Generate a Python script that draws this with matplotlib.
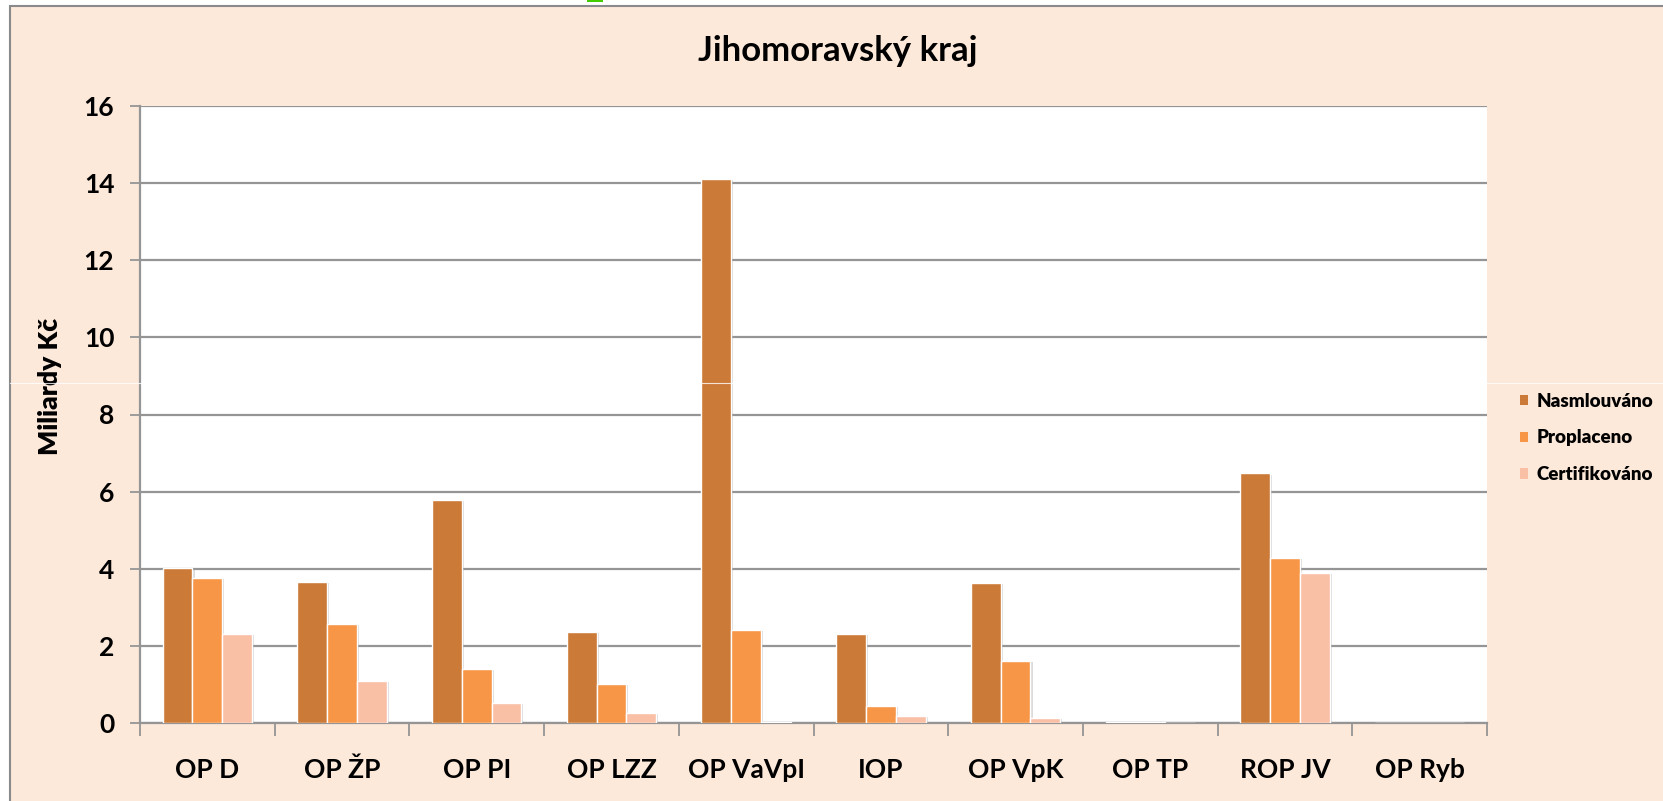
#!/usr/bin/env python3
"""
Jihomoravsky kraj - grouped bars of OP funds (contracted / paid / certified)
"""
import numpy as np
import matplotlib
matplotlib.use('Agg')
import matplotlib.pyplot as plt
from matplotlib.patches import Patch, Rectangle
from matplotlib.lines import Line2D
import matplotlib.patheffects as pe

plt.rcParams['font.family'] = ['Lato', 'DejaVu Sans']

categories = ['OP D', 'OP ŽP', 'OP PI', 'OP LZZ', 'OP VaVpI', 'IOP',
              'OP VpK', 'OP TP', 'ROP JV', 'OP Ryb']
series_names = ['Nasmlouváno', 'Proplaceno', 'Certifikováno']
nasmlouvano = [4.01, 3.66, 5.78, 2.36, 14.11, 2.31, 3.63, 0.02, 6.48, 0.01]
proplaceno = [3.76, 2.57, 1.40, 1.01, 2.41, 0.45, 1.62, 0.02, 4.28, 0.01]
certifikovano = [2.31, 1.09, 0.53, 0.27, 0.02, 0.19, 0.14, 0.01, 3.89, 0.0]
yticks = [0, 2, 4, 6, 8, 10, 12, 14, 16]

colors = ['#CC7A38', '#F79646', '#FAC0A6']
bg = '#FDE9DA'
grid_c = '#959595'

W, H = 1663, 801
fig = plt.figure(figsize=(W / 100, H / 100), dpi=100, facecolor='white')

# outer chart frame (runs off the right/bottom edge)
fig.add_artist(Rectangle((9.5 / W, -0.05), 1.1, 1 - 6 / H + 0.05,
                         transform=fig.transFigure, facecolor=bg,
                         edgecolor='#8a8a8a', linewidth=1.5, zorder=0))
# small green mark on the top edge
fig.add_artist(Rectangle((587 / W, 1 - 1.5 / H), 16 / W, 1.5 / H,
                         transform=fig.transFigure, facecolor='#44cc00',
                         edgecolor='none', zorder=1))

ax = fig.add_axes([140 / W, 1 - 723 / H, (1487 - 140) / W, (723 - 106) / H])
ax.set_facecolor('white')

x = np.arange(len(categories))
bw = 0.221
shadow = [pe.SimplePatchShadow(offset=(1.5, -1), shadow_rgbFace='#9a9a9a', alpha=0.35),
          pe.Normal()]
for k, (vals, name) in enumerate(zip([nasmlouvano, proplaceno, certifikovano], series_names)):
    bars = ax.bar(x + (k - 1) * bw, vals, width=bw, color=colors[k],
                  edgecolor='white', linewidth=1, label=name, zorder=3)
    for b in bars:
        b.set_path_effects(shadow)

ax.set_xlim(-0.5, len(categories) - 0.5)
ax.set_ylim(0, 16)
ax.set_yticks(yticks)
ax.set_yticklabels([str(t) for t in yticks], fontsize=19, fontweight='bold')
ax.yaxis.grid(True, color=grid_c, linewidth=1.6, zorder=1)
ax.set_axisbelow(True)

ax.set_xticks(x)
ax.set_xticklabels(categories, fontsize=19, fontweight='bold')
ax.set_xticks(np.arange(-0.5, len(categories)), minor=True)
ax.tick_params(axis='x', which='major', length=0, pad=25)
ax.tick_params(axis='x', which='minor', length=9.5, width=1.3, color=grid_c)
ax.tick_params(axis='y', length=7.5, width=1.3, color=grid_c, pad=11)

for s in ['top', 'right']:
    ax.spines[s].set_visible(False)
for s in ['left', 'bottom']:
    ax.spines[s].set_color(grid_c)
    ax.spines[s].set_linewidth(1.6)

fig.text(50 / W, 1 - 386 / H, 'Miliardy Kč', rotation=90, ha='center',
         va='center', fontsize=19, fontweight='heavy')
fig.text(838 / W, 1 - 51 / H, 'Jihomoravský kraj', ha='center', va='center',
         fontsize=25, fontweight='bold')

handles = [Patch(facecolor=c, edgecolor='none') for c in colors]
fig.legend(handles, series_names, loc='center left',
           bbox_to_anchor=(1520 / W, 1 - 438 / H), frameon=False,
           prop={'size': 13.5, 'weight': 'heavy'}, handlelength=0.45,
           handleheight=0.45, handletextpad=0.45, labelspacing=1.05,
           borderpad=0, borderaxespad=0)

# faint white scan line across the picture
fig.add_artist(Line2D([9.5 / W, 1], [1 - 383 / H] * 2, transform=fig.transFigure,
                      color='white', linewidth=0.8, alpha=0.8, zorder=10))

fig.savefig('out.png', dpi=100, facecolor=fig.get_facecolor())
